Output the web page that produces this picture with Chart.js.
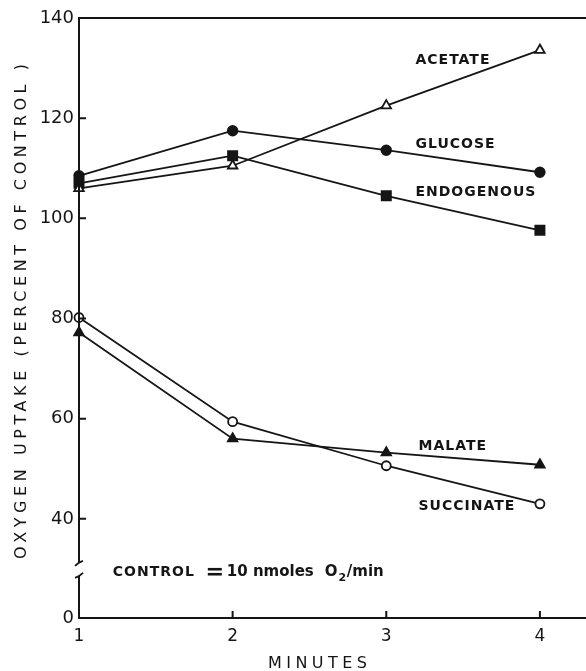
<!DOCTYPE html>
<html>
<head>
<meta charset="utf-8">
<script src="https://cdn.jsdelivr.net/npm/chart.js@4.4.1/dist/chart.umd.min.js"></script>
<style>
html,body{margin:0;padding:0;background:#fff;}
#wrap{width:586px;height:671px;position:relative;}
</style>
</head>
<body>
<div id="wrap"><canvas id="c" width="586" height="671"></canvas></div>
<script>
// ---- data ----
const minutes = [1, 2, 3, 4];
const acetate    = [106.0, 110.5, 122.5, 133.6];
const glucose    = [108.5, 117.5, 113.6, 109.2];
const endogenous = [107.0, 112.5, 104.5, 97.6];
const malate     = [77.2, 56.0, 53.2, 50.8];
const succinate  = [80.2, 59.4, 50.6, 43.0];
const xTicks = [1, 2, 3, 4];
const yTicks = [40, 60, 80, 100, 120, 140];
const yTickLabels = ['40', '60', '80', '100', '120', '140'];
const yBottomLabel = '0';
const seriesNames = ['ACETATE', 'GLUCOSE', 'ENDOGENOUS', 'MALATE', 'SUCCINATE'];

const INK = '#151515';
const Y_MIN = 20.2, Y_MAX = 140, X_MIN = 1, X_MAX = 4.3;

function pts(arr){ return minutes.map((m,i)=>({x:m, y:arr[i]})); }

function ds(label, arr, style, filled, radius){
  return {
    label, data: pts(arr),
    borderColor: INK, borderWidth: 1.8,
    pointStyle: style, pointRadius: radius, pointHoverRadius: radius,
    pointBackgroundColor: filled ? INK : '#fff',
    pointBorderColor: INK, pointBorderWidth: 1.8,
    tension: 0, fill: false, clip: 12
  };
}

// label anchors (data coordinates)
const seriesLabelPos = [
  {x:3.19, y:131.6}, {x:3.19, y:114.8}, {x:3.19, y:105.2},
  {x:3.21, y:54.4}, {x:3.21, y:42.4}
];

const decor = {
  id: 'decor',
  afterDraw(chart){
    const ctx = chart.ctx, xs = chart.scales.x, ys = chart.scales.y;
    const L = xs.left, R = xs.right, T = ys.top, B = ys.bottom;
    ctx.save();
    ctx.strokeStyle = INK; ctx.fillStyle = INK; ctx.lineCap = 'butt';
    // frame
    ctx.lineWidth = 2;
    ctx.beginPath();
    ctx.moveTo(L, T); ctx.lineTo(R, T);
    ctx.moveTo(L, B); ctx.lineTo(R, B);
    // y axis with break
    const bTop = ys.getPixelForValue(31.2), bBot = ys.getPixelForValue(28.6);
    ctx.moveTo(L, T - 1); ctx.lineTo(L, bTop);
    ctx.moveTo(L, bBot); ctx.lineTo(L, B + 1);
    ctx.stroke();
    ctx.lineWidth = 1.8;
    ctx.beginPath();
    ctx.moveTo(L - 4, bTop + 3); ctx.quadraticCurveTo(L, bTop - 1, L + 4, bTop - 2);
    ctx.moveTo(L - 4, bBot + 2); ctx.quadraticCurveTo(L, bBot + 1, L + 4, bBot - 3);
    ctx.stroke();
    // inside ticks
    ctx.lineWidth = 2;
    ctx.beginPath();
    yTicks.forEach(v => { const p = ys.getPixelForValue(v); ctx.moveTo(L, p); ctx.lineTo(L + 7, p); });
    xTicks.slice(1).forEach(v => { const p = xs.getPixelForValue(v); ctx.moveTo(p, B); ctx.lineTo(p, B - 7); });
    ctx.stroke();

    // series labels
    ctx.font = 'bold 14px "DejaVu Sans"';
    ctx.textBaseline = 'middle'; ctx.textAlign = 'left';
    ctx.letterSpacing = '1px';
    seriesNames.forEach((n, i) => {
      const p = seriesLabelPos[i];
      ctx.fillText(n, xs.getPixelForValue(p.x), ys.getPixelForValue(p.y));
    });

    // control note
    const nx = xs.getPixelForValue(1.22), ny = ys.getPixelForValue(29.4);
    ctx.letterSpacing = '1px';
    ctx.font = 'bold 14px "DejaVu Sans"';
    ctx.fillText('CONTROL', nx, ny);
    ctx.fillRect(nx + 95, ny - 4, 14, 2.6);
    ctx.fillRect(nx + 95, ny + 1, 14, 2.6);
    ctx.letterSpacing = '0px';
    ctx.font = 'bold 15px "DejaVu Sans"';
    ctx.fillText('10 nmoles', nx + 114, ny);
    ctx.fillText('O', nx + 212, ny);
    const ow = ctx.measureText('O').width;
    ctx.font = 'bold 11px "DejaVu Sans"';
    ctx.fillText('2', nx + 212 + ow + 1, ny + 6);
    ctx.font = 'bold 15px "DejaVu Sans"';
    ctx.fillText('/min', nx + 234, ny);

    // axis titles with spacing fitted to target length
    function spaced(text, font, width){
      ctx.font = font; ctx.letterSpacing = '0px';
      const w = ctx.measureText(text).width;
      ctx.letterSpacing = ((width - w) / (text.length - 1)) + 'px';
    }
    spaced('MINUTES', '16px "DejaVu Sans"', 99);
    ctx.textAlign = 'left'; ctx.textBaseline = 'middle';
    ctx.fillText('MINUTES', 268, 664);

    ctx.translate(22, 312);
    ctx.rotate(-Math.PI / 2);
    spaced('OXYGEN UPTAKE (PERCENT OF CONTROL )', '16px "DejaVu Sans"', 495);
    ctx.textAlign = 'left';
    ctx.fillText('OXYGEN UPTAKE (PERCENT OF CONTROL )', -247, 0);
    ctx.restore();
  }
};

new Chart(document.getElementById('c'), {
  type: 'line',
  data: {
    datasets: [
      ds(seriesNames[0], acetate, 'triangle', false, 5.5),
      ds(seriesNames[1], glucose, 'circle', true, 4.8),
      ds(seriesNames[2], endogenous, 'rect', true, 6.5),
      ds(seriesNames[3], malate, 'triangle', true, 5.5),
      ds(seriesNames[4], succinate, 'circle', false, 4.5)
    ]
  },
  options: {
    responsive: false, animation: false,
    layout: { autoPadding: false, padding: { top: 18, right: 0, left: 0, bottom: 0 } },
    plugins: { legend: { display: false }, tooltip: { enabled: false } },
    scales: {
      x: {
        type: 'linear', min: X_MIN, max: X_MAX,
        afterBuildTicks: s => { s.ticks = xTicks.map(v => ({ value: v })); },
        afterFit: s => { s.height = 53; s.paddingRight = 0; s.paddingLeft = 0; },
        grid: { display: false, drawTicks: false },
        border: { display: false },
        ticks: { color: INK, font: { family: 'DejaVu Sans', size: 17 }, padding: 8,
                 callback: v => String(v) }
      },
      y: {
        type: 'linear', min: Y_MIN, max: Y_MAX,
        afterBuildTicks: s => { s.ticks = [{ value: Y_MIN }].concat(yTicks.map(v => ({ value: v }))); },
        afterFit: s => { s.width = 79; },
        grid: { display: false, drawTicks: false },
        border: { display: false },
        ticks: { color: INK, font: { family: 'DejaVu Sans', size: 18 }, padding: 5,
                 callback: v => v === Y_MIN ? yBottomLabel : yTickLabels[yTicks.indexOf(v)] }
      }
    }
  },
  plugins: [decor]
});
</script>
</body>
</html>
